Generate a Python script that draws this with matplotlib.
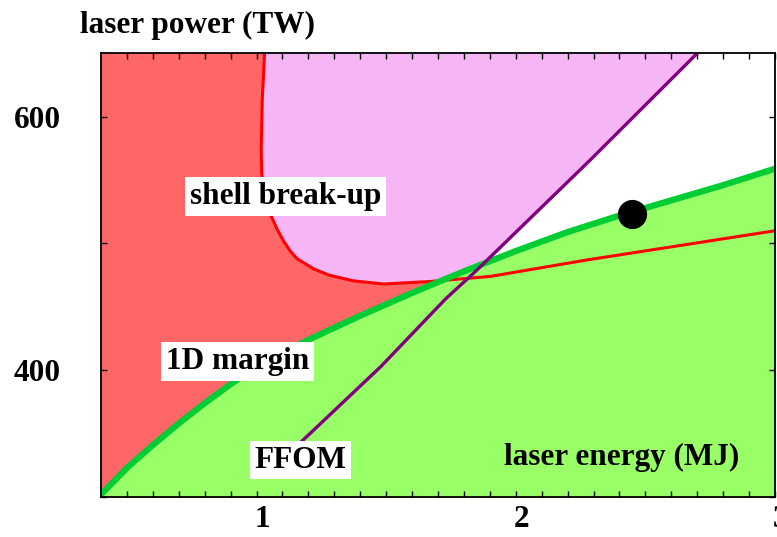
import matplotlib
matplotlib.use("Agg")
import matplotlib.pyplot as plt
import matplotlib.transforms as mtransforms
import numpy as np

plt.rcParams.update({"font.family": "Liberation Serif", "font.weight": "bold", "font.size": 22.5})

# axis limits
X0, X1 = 0.4, 3.0
Y0, Y1 = 300, 650

# 1D-margin boundary (green)
green_x = [0.40, 0.50, 0.60, 0.70, 0.80, 0.90, 1.00, 1.20, 1.40, 1.60, 1.80, 2.00, 2.20, 2.40, 2.60, 2.80, 3.00]
green_y = [302, 323, 341, 358, 374, 389, 403, 424, 443, 461, 478, 494, 509, 522, 534, 546, 559]

# shell break-up boundary (red)
red_x = [1.031, 1.022, 1.018, 1.020, 1.034, 1.053, 1.080, 1.104, 1.130, 1.156, 1.220, 1.280, 1.374, 1.490, 1.670, 1.902, 2.275, 3.000]
red_y = [650, 613, 574, 555, 538, 523, 511, 502, 494, 488, 480, 475, 470.5, 468, 470, 474, 487, 510]

# FFOM line (purple)
ffom_x = [1.175, 1.48, 1.728, 1.85, 2.288, 2.70]
ffom_y = [344, 403, 456, 479, 566, 650]

# design point
pt_x, pt_y = [2.449], [523.5]

xticks = [1, 2, 3]
yticks = [300, 400, 500, 600]
ylabels = ["", "400", "", "600"]

fig = plt.figure(figsize=(7.77, 5.37), dpi=100)
ax = fig.add_axes([101/777, 1-497/537, 674/777, 443.7/537])
ax.set_xlim(X0, X1); ax.set_ylim(Y0, Y1)

rx, ry, fx, fy = map(np.asarray, (red_x, red_y, ffom_x, ffom_y))
# red region: left of / below the red curve (green fill covers the lower part)
m = rx < 1.95
ax.fill(np.r_[X0, X0, rx[m], rx[m][-1]], np.r_[Y0, Y1, ry[m], Y0], color="#ff6666", lw=0, zorder=1)
# pink region: above the red curve, left of the FFOM line
m2 = rx < 1.8
ax.fill(np.r_[rx[m2], fx[fx > 1.8]], np.r_[ry[m2], fy[fx > 1.8]], color="#f6b6f6", lw=0, zorder=1)
# green region
ax.fill_between(green_x, Y0, green_y, color="#99ff66", lw=0, zorder=1.5)

ax.plot(red_x, red_y, color="#ff0000", lw=2.2, zorder=2)
ax.plot(green_x, green_y, color="#00cc33", lw=4.5, zorder=2.2, solid_capstyle="butt")
ax.plot(ffom_x, ffom_y, color="#800080", lw=2.4, zorder=2.4)
ax.plot(pt_x, pt_y, "o", color="black", ms=20, zorder=3)

box = dict(facecolor="white", edgecolor="none", boxstyle="square,pad=0.15")
ax.text(1.112, 537, "shell break-up", ha="center", va="center", bbox=box, zorder=4)
ax.text(0.927, 407, "1D margin", ha="center", va="center", bbox=box, zorder=4)
ax.text(1.170, 329, "FFOM", ha="center", va="center", bbox=box, zorder=4)
ax.text(622/777, 1-465/537, "laser energy (MJ)", ha="center", va="baseline",
        transform=fig.transFigure, zorder=4)
fig.text(197/777, 1-33/537, "laser power (TW)", ha="center", va="baseline")

ax.set_xticks(xticks); ax.set_xticklabels([str(t) for t in xticks])
ax.set_xticks(np.arange(0.5, 3.0, 0.1), minor=True)
ax.set_yticks(yticks); ax.set_yticklabels(ylabels)
ax.tick_params(which="both", direction="in", top=True, right=True, length=4, width=1)
ax.tick_params(axis="y", pad=29)
ax.tick_params(axis="x", pad=6)
off = mtransforms.ScaledTranslation(6/100, 0, fig.dpi_scale_trans)
for lab in ax.get_xticklabels():
    lab.set_transform(lab.get_transform() + off)
for s in ax.spines.values():
    s.set_linewidth(1.3); s.set_zorder(5)

fig.savefig("out.png", dpi=100)
